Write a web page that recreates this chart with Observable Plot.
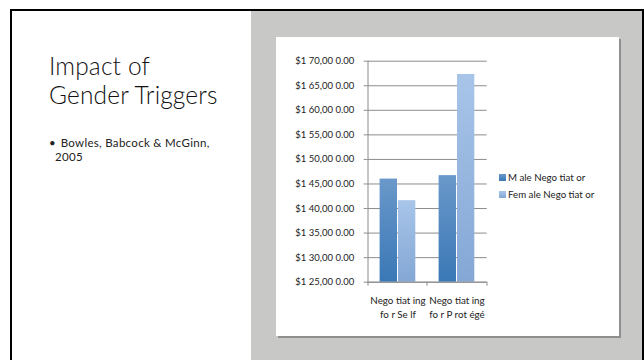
<!DOCTYPE html>
<html><head><meta charset="utf-8">
<script src="https://cdn.jsdelivr.net/npm/d3@7"></script>
<script src="https://cdn.jsdelivr.net/npm/@observablehq/plot@0.6"></script>
<style>
html,body{margin:0;padding:0;background:#fff;overflow:hidden;}
#slide{position:relative;width:644px;height:360px;overflow:hidden;background:#fff;font-family:Lato,"Open Sans",sans-serif;color:#222;}
#border{position:absolute;left:10px;top:9px;width:634px;height:420px;border:2px solid #000;border-bottom:none;box-sizing:border-box;}
#panel{position:absolute;left:251px;top:11px;width:391px;height:349px;background:#c8c8c7;}
#title{position:absolute;left:49px;top:50.6px;font-size:24.5px;line-height:29.4px;letter-spacing:0.15px;font-weight:300;white-space:nowrap;color:#111;}
#btext{position:absolute;left:49px;top:136px;font-size:11.5px;line-height:13.8px;letter-spacing:0.3px;white-space:nowrap;}
#btext .b{display:inline-block;width:11.7px;letter-spacing:0;}
#btext .l2{display:inline-block;margin-left:6px;}
#box{position:absolute;left:276px;top:37px;width:343px;height:299px;background:#fff;box-shadow:2px 2px 0 #8f8f8f;}
#legend{position:absolute;left:499px;top:168.5px;font-size:9.7px;line-height:17px;color:#222;}
#legend .row{display:flex;align-items:center;white-space:nowrap;}
#legend .sw{width:7px;height:7px;margin-right:2px;display:inline-block;}
</style></head>
<body>
<div id="slide">
  <div id="border"></div>
  <div id="panel"></div>
  <div id="title">Impact of<br>Gender Triggers</div>
  <div id="btext"><span class="b">•</span>Bowles, Babcock &amp; McGinn,<br><span class="l2">2005</span></div>
  <div id="box"></div>
  <div id="legend"></div>
</div>
<script>
const categories = ["Nego tiat ing\nfo r Se lf", "Nego tiat ing\nfo r P rot égé"];
const seriesNames = ["M ale Nego tiat or", "Fem ale Nego tiat or"];
const maleValues = [146000, 146700];
const femaleValues = [141600, 167300];
const yTickValues = [125000, 130000, 135000, 140000, 145000, 150000, 155000, 160000, 165000, 170000];
const yTickLabels = ["$1 25,00 0.00", "$1 30,00 0.00", "$1 35,00 0.00", "$1 40,00 0.00", "$1 45,00 0.00", "$1 50,00 0.00", "$1 55,00 0.00", "$1 60,00 0.00", "$1 65,00 0.00", "$1 70,00 0.00"];
const seriesGradients = [["#6a98ca", "#3a78b6"], ["#a8c5e9", "#84a7d5"]];

const rows = categories.flatMap((c, i) => [
  {category: c, series: seriesNames[0], value: maleValues[i]},
  {category: c, series: seriesNames[1], value: femaleValues[i]}
]);

const W = 343, H = 299, mL = 90.7, mR = 132.3, mT = 23.7, mB = 54.3;
const bw = (W - mL - mR) / categories.length;
const frameH = H - mT - mB;
const gridColor = "#8c8c8c";

const chart = Plot.plot({
  width: W, height: H,
  marginLeft: mL, marginRight: mR, marginTop: mT, marginBottom: mB,
  style: {background: "transparent", fontFamily: "Lato, 'Open Sans', sans-serif", color: "#222", overflow: "visible"},
  x: {domain: categories, padding: 0, axis: null},
  y: {domain: [yTickValues[0], yTickValues[yTickValues.length - 1]], axis: null},
  marks: [
    Plot.gridY(yTickValues, {stroke: gridColor, strokeOpacity: 1}),
    Plot.barY(rows.filter(d => d.series === seriesNames[0]), {x: "category", y1: yTickValues[0], y2: "value", fill: "url(#gMale)", insetLeft: 11.6, insetRight: 30}),
    Plot.barY(rows.filter(d => d.series === seriesNames[1]), {x: "category", y1: yTickValues[0], y2: "value", fill: "url(#gFemale)", insetLeft: 30, insetRight: 11.7}),
    Plot.ruleY([yTickValues[0]], {stroke: gridColor}),
    Plot.ruleX(categories.slice(0, 1), {x: d => d, dx: -bw / 2, stroke: gridColor}),
    Plot.ruleX(categories, {x: d => d, dx: -bw / 2, insetTop: frameH, insetBottom: -4, stroke: gridColor}),
    Plot.ruleX(categories.slice(-1), {x: d => d, dx: bw / 2, insetTop: frameH, insetBottom: -4, stroke: gridColor}),
    Plot.axisY(yTickValues, {tickFormat: d => yTickLabels[yTickValues.indexOf(d)], tickSize: 3, tickPadding: 10, stroke: gridColor, fill: "#222", fontSize: 9.5, label: null}),
    Plot.text(categories, {x: d => d, text: d => d, frameAnchor: "bottom", lineAnchor: "top", dy: 11, lineHeight: 1.5, fontSize: 9.8, fill: "#222"})
  ]
});

const defs = d3.select(chart).insert("defs", ":first-child");
[["gMale", seriesGradients[0]], ["gFemale", seriesGradients[1]]].forEach(([id, [top, bottom]]) => {
  const g = defs.append("linearGradient").attr("id", id).attr("x1", 0).attr("y1", 0).attr("x2", 0).attr("y2", 1);
  g.append("stop").attr("offset", "0%").attr("stop-color", top);
  g.append("stop").attr("offset", "100%").attr("stop-color", bottom);
});
document.getElementById("box").appendChild(chart);

const legend = d3.select("#legend");
seriesNames.forEach((name, i) => {
  const row = legend.append("div").attr("class", "row");
  row.append("span").attr("class", "sw").style("background", `linear-gradient(${seriesGradients[i][0]}, ${seriesGradients[i][1]})`);
  row.append("span").text(name);
});
</script>
</body></html>
